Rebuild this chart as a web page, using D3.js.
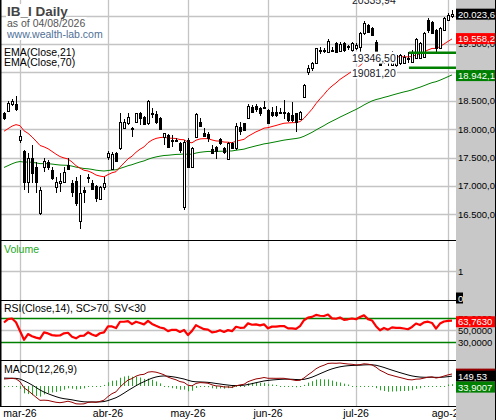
<!DOCTYPE html>
<html><head><meta charset="utf-8">
<script src="https://cdn.jsdelivr.net/npm/d3@7"></script>
<style>
body{margin:0;background:#fff}
svg{display:block}
text{font-family:"Liberation Sans",Arial,sans-serif}
</style>
</head><body>
<svg id="c" width="496" height="420"></svg>
<script>
// ---------------- data ----------------
const dates = ["2026-02-24","2026-02-25","2026-02-26","2026-02-27",
"2026-03-02","2026-03-03","2026-03-04","2026-03-05","2026-03-06","2026-03-09","2026-03-10","2026-03-11","2026-03-12","2026-03-13","2026-03-16","2026-03-17","2026-03-18","2026-03-19","2026-03-20","2026-03-23","2026-03-24","2026-03-25","2026-03-26","2026-03-27","2026-03-30","2026-03-31",
"2026-04-01","2026-04-02","2026-04-07","2026-04-08","2026-04-09","2026-04-10","2026-04-13","2026-04-14","2026-04-15","2026-04-16","2026-04-17","2026-04-20","2026-04-21","2026-04-22","2026-04-23","2026-04-24","2026-04-27","2026-04-28","2026-04-29","2026-04-30",
"2026-05-04","2026-05-05","2026-05-06","2026-05-07","2026-05-08","2026-05-11","2026-05-12","2026-05-13","2026-05-14","2026-05-15","2026-05-18","2026-05-19","2026-05-20","2026-05-21","2026-05-22","2026-05-25","2026-05-26","2026-05-27","2026-05-28","2026-05-29",
"2026-06-01","2026-06-02","2026-06-03","2026-06-04","2026-06-05","2026-06-08","2026-06-09","2026-06-10","2026-06-11","2026-06-12","2026-06-15","2026-06-16","2026-06-17","2026-06-18","2026-06-19","2026-06-22","2026-06-23","2026-06-24","2026-06-25","2026-06-26","2026-06-29","2026-06-30",
"2026-07-01","2026-07-02","2026-07-03","2026-07-06","2026-07-07","2026-07-08","2026-07-09","2026-07-10","2026-07-13","2026-07-14","2026-07-15","2026-07-16","2026-07-17","2026-07-20","2026-07-21","2026-07-22","2026-07-23","2026-07-24","2026-07-27","2026-07-28","2026-07-29","2026-07-30","2026-07-31",
"2026-08-03","2026-08-04"];

const open = [18278,18324,18442,18442,17808,17614,17064,17486,17338,16528,
17328,17426,17280,16986,17046,17074,17368,17056,17092,16388,
16928,17162,17056,16998,16764,16986,17504,17292,17584,17662,
18014,18112,18014,18130,18278,18218,18102,18288,18266,18200,
17866,17896,17817,17817,17760,16624,17808,17338,17866,18130,
17936,17914,17655,17690,17820,17662,17468,17760,17662,18042,
18102,18190,18394,18406,18366,18392,18336,18306,18306,18310,
18310,18278,18248,18278,18172,18570,19010,19070,19158,19401,
19388,19352,19401,19510,19380,19520,19459,19392,19422,19450,
19686,19832,19774,19538,19251,19198,19269,19128,19128,19158,
19158,19255,19186,19246,19246,19269,19920,19885,19744,19422,
19744,19920,19990];
const high = [18306,18500,18524,18588,17984,17632,17574,17720,17426,16986,
17486,17456,17328,17162,17222,17338,17486,17104,17162,17192,
16986,17210,17104,17016,16998,17162,17620,17597,17602,18278,
18172,18278,18042,18288,18296,18230,18512,18366,18318,18208,
17936,17914,17896,17843,17778,17808,17838,17680,18278,18190,
18014,17954,17720,17702,17848,17690,17778,17778,18112,18130,
18112,18442,18424,18442,18394,18500,18348,18394,18406,18366,
18512,18306,18482,18288,18318,18794,19128,19186,19432,19440,
19422,19586,19450,19538,19538,19538,19480,19538,19510,19709,
19902,19850,19802,19568,19304,19322,19304,19374,19339,19322,
19304,19357,19392,19603,19533,19709,19955,19902,19762,19797,
19973,20043,20096];
const low = [18160,18306,18406,18324,17755,16928,16870,17046,16870,16488,
17250,17280,17104,16870,16898,17046,17280,16800,16646,16236,
16704,17056,16928,16722,16752,16928,17456,17280,17421,17632,
18002,18072,17866,18112,18072,18072,18072,18190,18090,17984,
17720,17685,17690,17773,17584,16576,17310,17328,17856,18042,
17866,17778,17562,17474,17720,17562,17456,17650,17632,17896,
17972,18172,18288,18301,18230,18348,18090,18218,18208,18278,
18172,18130,18130,17954,18160,18560,18952,19028,19146,19322,
19334,19334,19362,19334,19362,19362,19392,19322,19392,19339,
19656,19686,19644,19304,19110,19146,19110,19110,19102,19128,
19146,19163,19181,19234,19234,19251,19691,19674,19357,19410,
19726,19902,19955];
const close = [18190,18454,18500,18348,17878,17064,17486,17232,17064,16928,
17444,17328,17134,17074,17092,17250,17292,16898,16704,16880,
16898,17134,16940,16782,16976,17046,17574,17562,17438,18130,
18130,18208,17996,18278,18190,18090,18500,18271,18130,17996,
17926,17690,17799,17799,17632,17778,17328,17662,18260,18054,
17878,17838,17574,17620,17760,17602,17750,17662,18054,17972,
17984,18406,18306,18348,18278,18375,18102,18248,18248,18292,
18292,18160,18160,18130,18306,18776,19070,19158,19422,19383,
19371,19556,19383,19362,19498,19392,19441,19510,19480,19686,
19872,19714,19656,19374,19128,19286,19181,19334,19304,19304,
19274,19237,19362,19580,19510,19691,19744,19691,19422,19774,
19950,20008,20023.6];

const monthStarts = ["2026-03-02","2026-04-01","2026-05-04","2026-06-01","2026-07-01","2026-08-03"];
const monthLabels = ["mar-26","abr-26","may-26","jun-26","jul-26","ago-26"];
const priceTicks = [16500,17000,17500,18000,18500,19000,19500,20000];
const rsiTicks = [30,50,70];
const rsiBands = [70,30];
const volumeTicks = [0,1];
const supportLevels = [19346.50, 19081.20];
const peakLevel = 20335.94;
const lastValues = {close:20023.60, ema21:19558.264, ema70:18942.146, rsi:63.7630, macd:183.43, signal:149.53, hist:33.9007};
// indicator warm-up seeds (history before the first visible bar)
const ema21Seed = 17940, ema70Seed = 17300;
const rsiSeedGain = 70, rsiSeedLoss = 42;
const ema12Seed = 18300, ema26Seed = 18160, signalSeed = 140;

// ---------------- indicators ----------------
function ema(vals, n, seed){ let e = seed; const a = 2/(n+1); return vals.map(v => (e = e + a*(v-e))); }
const ema21 = ema(close,21,ema21Seed);
const ema70 = ema(close,70,ema70Seed);
const rsi = [];
{ let ag = rsiSeedGain, al = rsiSeedLoss;
  close.forEach((c,i)=>{ if(i>0){ const ch = c - close[i-1]; ag = (ag*13 + Math.max(ch,0))/14; al = (al*13 + Math.max(-ch,0))/14; }
    rsi.push(100 - 100/(1+ag/al)); }); }
const e12 = ema(close,12,ema12Seed), e26 = ema(close,26,ema26Seed);
const macd = e12.map((v,i)=>v-e26[i]);
const signal = ema(macd,9,signalSeed);
const hist = macd.map((v,i)=>v-signal[i]);

// ---------------- layout ----------------
const W = 496, H = 420, PR = 456;
const svg = d3.select("#c");
const es = d3.formatLocale({decimal:",", thousands:".", grouping:[3], currency:["","€"]});
const f2g = es.format(",.2f"), f3g = es.format(",.3f"), f4 = es.format(".4f"), f2 = es.format(".2f");

const x = d3.scalePoint().domain(dates).range([4,452]);
const yP = d3.scaleLinear().domain([16048,20273]).range([240,0]);
const yV = d3.scaleLinear().domain([0,1]).range([300,271]);
const yR = d3.scaleLinear().domain([0,100]).range([360,300]);
const mExt = d3.extent(macd.concat(signal));
const yM = d3.scaleLinear().domain(mExt).range([404,363]);

svg.append("rect").attr("width",W).attr("height",H).attr("fill","#fff");
const defs = svg.append("defs");
[["cp",0,240],["cr",300,360],["cm",360,406]].forEach(([id,a,b])=>{
  defs.append("clipPath").attr("id",id).append("rect").attr("x",0).attr("y",a).attr("width",PR).attr("height",b-a);
});

const grid = "#c4c4c4";
svg.append("g").selectAll("line").data(monthStarts).join("line")
  .attr("x1",d=>Math.round(x(d))+0.5).attr("x2",d=>Math.round(x(d))+0.5)
  .attr("y1",0).attr("y2",406).attr("stroke",grid).attr("stroke-width",1.3);
svg.append("g").selectAll("line").data(priceTicks).join("line")
  .attr("x1",0).attr("x2",PR).attr("y1",d=>Math.round(yP(d))+0.5).attr("y2",d=>Math.round(yP(d))+0.5)
  .attr("stroke",grid).attr("stroke-width",1.3);
svg.append("line").attr("x1",0).attr("x2",PR).attr("y1",Math.round(yV(1))+0.5).attr("y2",Math.round(yV(1))+0.5).attr("stroke",grid).attr("stroke-width",1.3);
svg.append("line").attr("x1",0).attr("x2",PR).attr("y1",Math.round(yR(50))+0.5).attr("y2",Math.round(yR(50))+0.5).attr("stroke",grid).attr("stroke-width",1.3);

// ---------------- price pane ----------------
const gp = svg.append("g").attr("clip-path","url(#cp)");
const line = (ys, sc) => d3.line().x((d,i)=>x(dates[i])).y(d=>sc(d))(ys);
gp.append("path").attr("d",line(ema70,yP)).attr("fill","none").attr("stroke","#008000").attr("stroke-width",1);
gp.append("path").attr("d",line(ema21,yP)).attr("fill","none").attr("stroke","#ff0000").attr("stroke-width",1);

const candles = gp.append("g").attr("shape-rendering","crispEdges");
dates.forEach((d,i)=>{
  const cx = Math.round(x(d));
  const yh = Math.round(yP(high[i])), yl = Math.round(yP(low[i]));
  const yo = Math.round(yP(open[i])), yc = Math.round(yP(close[i]));
  const top = Math.min(yo,yc), bot = Math.max(yo,yc);
  candles.append("rect").attr("x",cx).attr("y",yh).attr("width",1).attr("height",Math.max(1,yl-yh)).attr("fill","#000");
  candles.append("rect").attr("x",cx-1).attr("y",top).attr("width",3).attr("height",Math.max(1,bot-top+1)).attr("fill","#000");
  if(close[i] > open[i] && bot-top >= 2)
    candles.append("rect").attr("x",cx).attr("y",top+1).attr("width",1).attr("height",bot-top-1).attr("fill","#fff");
});

const sx0 = x("2026-07-21")-3;
gp.selectAll(".sup").data(supportLevels).join("line")
  .attr("x1",sx0).attr("x2",PR).attr("y1",d=>yP(d)).attr("y2",d=>yP(d))
  .attr("stroke","#008000").attr("stroke-width",2.5);

function boxedText(g, txt, tx, ty, size, color, bg){
  const t = g.append("text").attr("x",tx).attr("y",ty).attr("font-size",size).attr("fill",color).text(txt);
  const b = t.node().getBBox();
  g.insert("rect","text").attr("x",b.x-1).attr("y",b.y).attr("width",b.width+2).attr("height",b.height).attr("fill",bg);
  return t;
}
const gl = svg.append("g");
supportLevels.forEach(v=>{
  const gg = gl.append("g");
  boxedText(gg, f2(v), 352, yP(v)+9, 10.5, "#1a1a2a", "#fff");
});
gl.append("text").attr("x",352).attr("y",yP(peakLevel)+8).attr("font-size",10.5).attr("fill","#1a1a2a").text(f2(peakLevel));

// ---------------- RSI pane ----------------
svg.selectAll(".band").data(rsiBands).join("line")
  .attr("x1",0).attr("x2",PR).attr("y1",d=>Math.round(yR(d))+0.5).attr("y2",d=>Math.round(yR(d))+0.5)
  .attr("stroke","#008000").attr("stroke-width",1.3);
svg.append("path").attr("clip-path","url(#cr)").attr("d",line(rsi,yR)).attr("fill","none")
  .attr("stroke","#ff0000").attr("stroke-width",2.2).attr("stroke-linejoin","round");

// ---------------- MACD pane ----------------
const gm = svg.append("g").attr("clip-path","url(#cm)");
const y0 = Math.round(yM(0));
gm.append("g").selectAll("line").data(hist).join("line")
  .attr("x1",(d,i)=>Math.round(x(dates[i]))+0.5).attr("x2",(d,i)=>Math.round(x(dates[i]))+0.5)
  .attr("y1",y0).attr("y2",d=>{ const y=yM(d); return Math.abs(y-y0)<1 ? y0+1 : y; })
  .attr("stroke","#22a822").attr("stroke-width",1);
gm.append("path").attr("d",line(signal,yM)).attr("fill","none").attr("stroke","#000").attr("stroke-width",1);
gm.append("path").attr("d",line(macd,yM)).attr("fill","none").attr("stroke","#960000").attr("stroke-width",1);

// ---------------- panel separators & borders ----------------
[240,300,360,406].forEach(y=>svg.append("line").attr("x1",0).attr("x2",PR).attr("y1",y+0.5).attr("y2",y+0.5).attr("stroke","#000").attr("stroke-width",1));
svg.append("line").attr("x1",0.75).attr("x2",0.75).attr("y1",0).attr("y2",406).attr("stroke","#000").attr("stroke-width",1.5);

// ---------------- pane titles ----------------
const gt = svg.append("g");
boxedText(gt,"IB_I Daily",7,16,13.5,"#444","#fff").attr("font-weight","bold");
boxedText(gt,"as of 04/08/2026",7,27,10.5,"#555","#fff");
boxedText(gt,"www.wealth-lab.com",7,38,10.5,"#4f6f96","#fff");
gt.append("text").attr("x",4).attr("y",56).attr("font-size",10.5).attr("fill","#000").text("EMA(Close,21)");
gt.append("text").attr("x",4).attr("y",66).attr("font-size",10.5).attr("fill","#000").text("EMA(Close,70)");
gt.append("text").attr("x",4).attr("y",253).attr("font-size",10.5).attr("fill","#22a822").text("Volume");
gt.append("text").attr("x",4).attr("y",312).attr("font-size",10.5).attr("fill","#000").text("RSI(Close,14), SC>70, SV<30");
gt.append("text").attr("x",4).attr("y",373).attr("font-size",10.5).attr("fill","#000").text("MACD(12,26,9)");

svg.append("g").selectAll("text").data(monthStarts).join("text")
  .attr("x",d=>x(d)).attr("y",417).attr("text-anchor","middle").attr("font-size",10.5).attr("fill","#000")
  .text((d,i)=>monthLabels[i]);

// ---------------- right axis ----------------
svg.append("rect").attr("x",PR).attr("y",0).attr("width",W-PR).attr("height",H).attr("fill","#c8c8c8");
const ga = svg.append("g").attr("font-size",9.5);
const axText = (txt,y,color="#000") => ga.append("text").attr("x",458).attr("y",y+3.5).attr("fill",color).attr("font-size",9.5).text(txt);
priceTicks.forEach(v=>axText(f2g(v), yP(v)));
axText("1", yV(1));
rsiTicks.forEach(v=>axText(f4(v), yR(v)));

function valBox(txt, y, bg, fg="#fff", w=40){
  ga.append("rect").attr("x",PR).attr("y",y-5.5).attr("width",w).attr("height",11).attr("fill",bg);
  ga.append("text").attr("x",PR+2).attr("y",y+3.5).attr("fill",fg).attr("font-size",9.5).text(txt);
}
const last = close.length-1;
valBox(f2g(lastValues.close), yP(lastValues.close), "#000");
valBox(f3g(lastValues.ema21), yP(lastValues.ema21)-2, "#ff0000");
valBox(f3g(lastValues.ema70), yP(lastValues.ema70), "#008000");
valBox("0", yV(0)-2, "#000", "#fff", 7);
valBox(f4(lastValues.rsi), yR(lastValues.rsi), "#ff0000");
const ySig = yM(signal[last]);
valBox(f2(lastValues.macd), ySig-2, "#960000");
valBox(f2(lastValues.signal), ySig, "#000");
valBox(f4(lastValues.hist), ySig+11, "#008000");

svg.append("line").attr("x1",495.5).attr("x2",495.5).attr("y1",0).attr("y2",H).attr("stroke","#000").attr("stroke-width",1);
</script>
</body></html>
